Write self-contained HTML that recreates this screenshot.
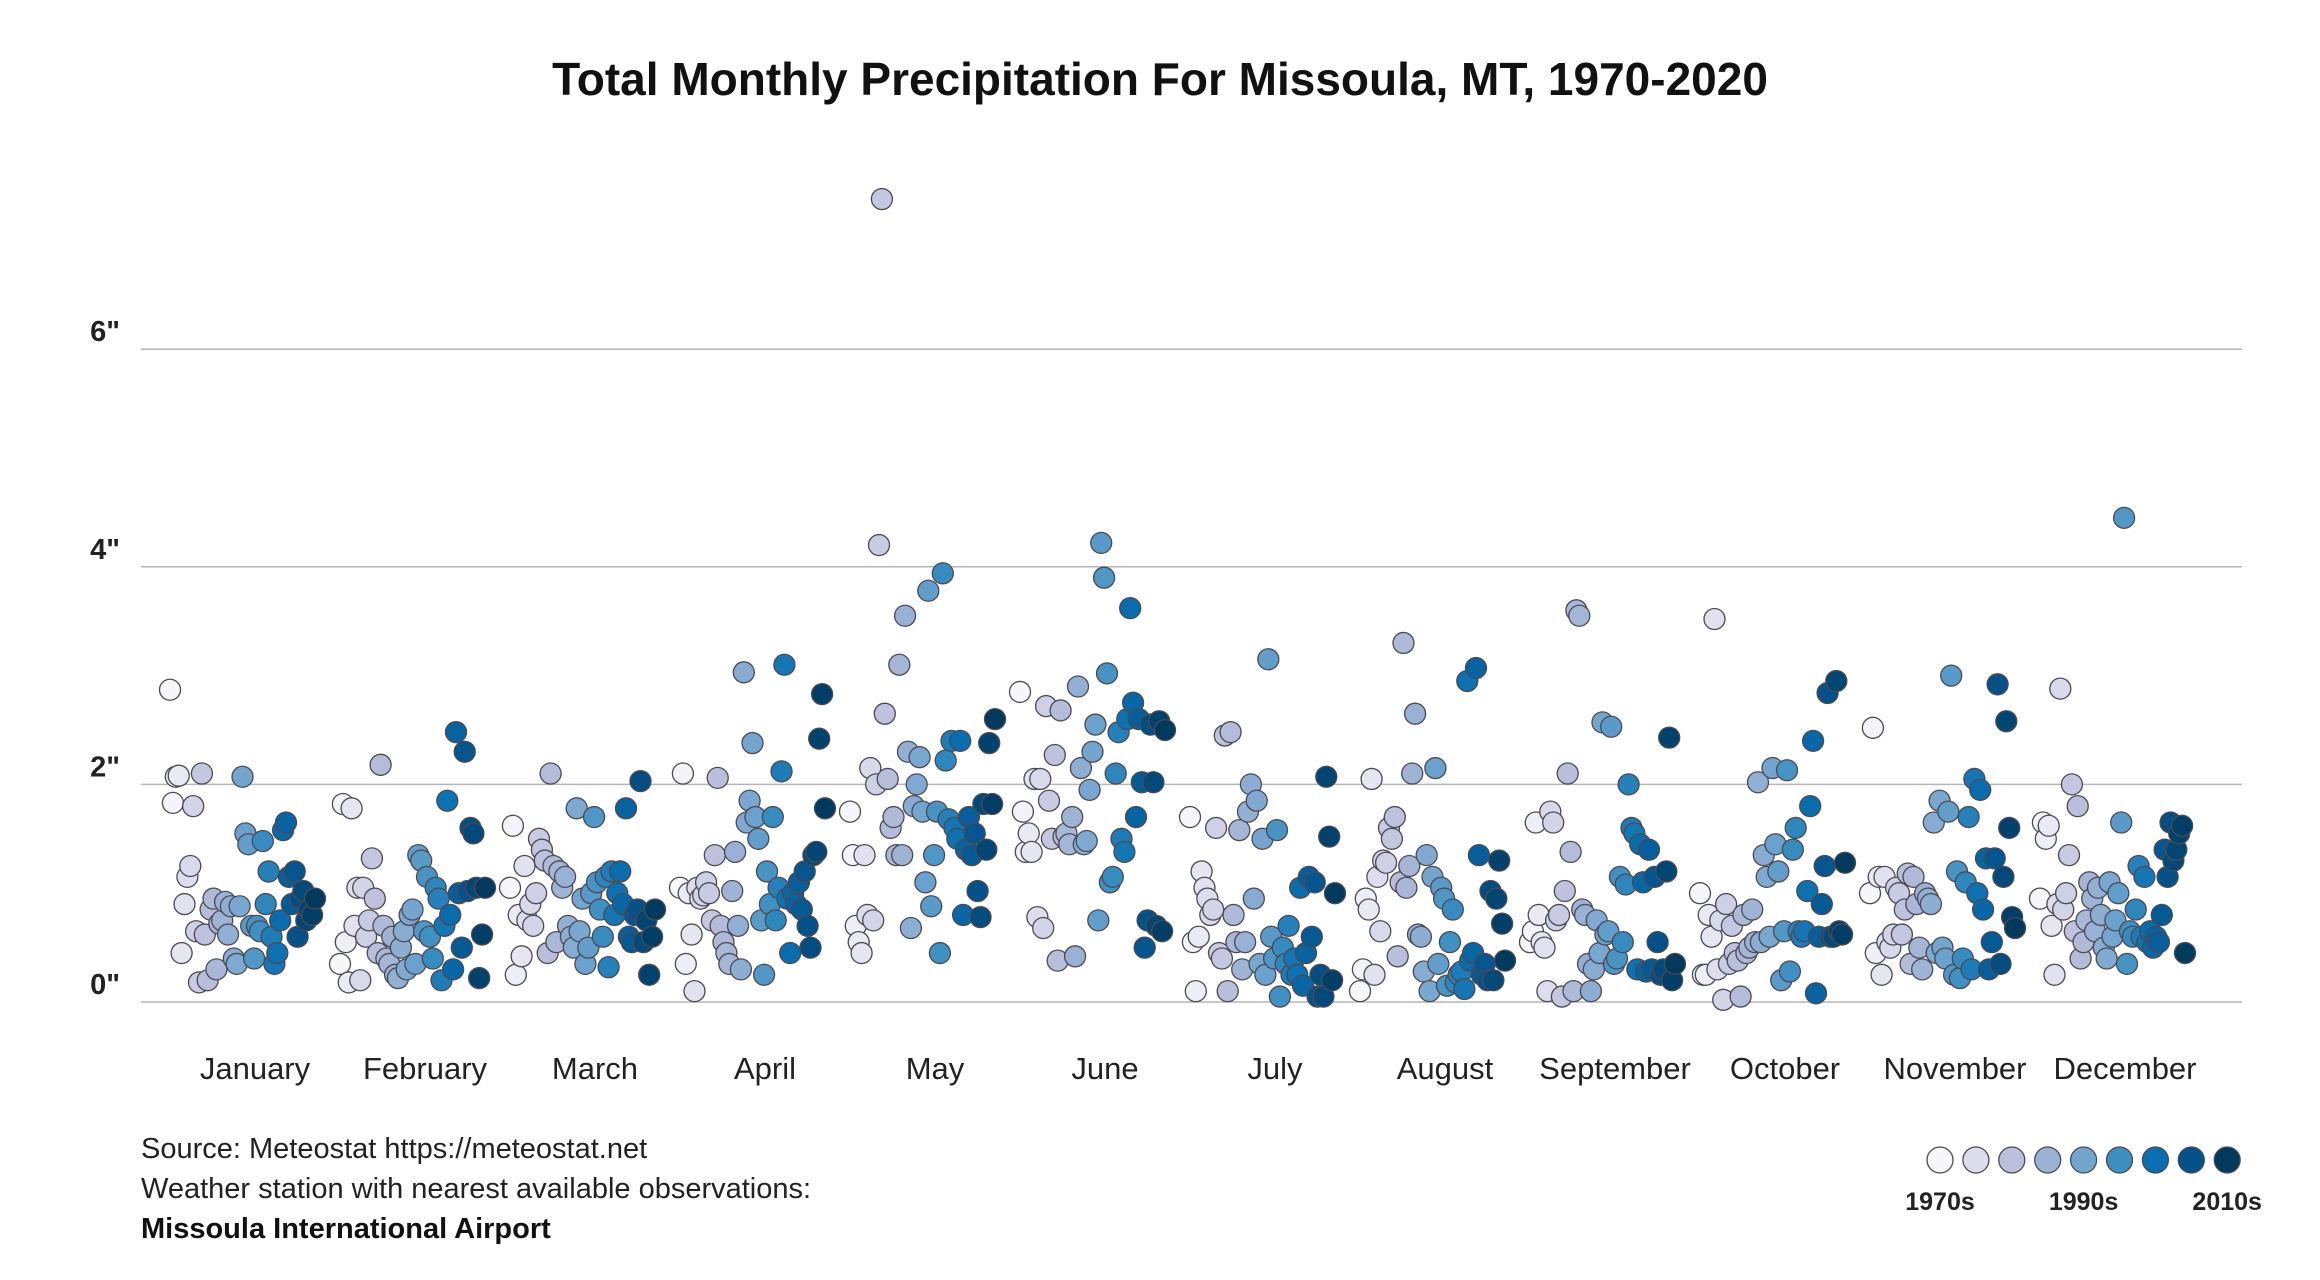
<!DOCTYPE html>
<html><head><meta charset="utf-8"><style>
html,body{margin:0;padding:0;background:#fff;}
svg{display:block;font-family:"Liberation Sans",sans-serif;}
</style></head><body>
<svg id="chart" width="2320" height="1280" viewBox="0 0 2320 1280">
<text x="1160" y="95" text-anchor="middle" font-size="46" font-weight="bold" fill="#111">Total Monthly Precipitation For Missoula, MT, 1970-2020</text>
<g id="grid"></g>
<g id="points"></g>
<g id="months"></g>
<text x="141" y="1158" font-size="29" fill="#222">Source: Meteostat https://meteostat.net</text>
<text x="141" y="1198" font-size="29" fill="#222">Weather station with nearest available observations:</text>
<text x="141" y="1238" font-size="29" font-weight="bold" fill="#111">Missoula International Airport</text>
<g id="legend"></g>
</svg>
<script>
const months=["January","February","March","April","May","June","July","August","September","October","November","December"];
const yTicks=[0,2,4,6];
const tickLabels=['0"','2"','4"','6"'];
const legendLabels=["1970s","1990s","2010s"];
const startYear=1970;
const jan=[2.87,1.83,2.07,2.08,0.45,0.9,1.15,1.25,1.8,0.65,0.18,2.1,0.62,0.2,0.85,0.95,0.3,0.72,0.75,0.92,0.62,0.88,0.4,0.35,0.88,2.07,1.55,1.45,0.7,0.4,0.7,0.65,1.48,0.9,1.2,0.6,0.35,0.45,0.75,1.58,1.65,1.15,0.9,1.2,0.6,0.95,1.02,0.75,0.85,0.8,0.95];
const feb=[0.35,1.82,0.55,0.18,1.78,0.7,1.05,0.2,1.05,0.6,0.75,1.32,0.95,0.45,2.18,0.7,0.4,0.35,0.6,0.25,0.22,0.5,0.65,0.3,0.8,0.85,0.35,1.35,1.3,0.65,1.15,0.6,0.4,1.05,0.95,0.2,0.7,1.85,0.8,0.3,2.48,1.0,0.5,2.3,1.02,1.6,1.55,1.05,0.22,0.62,1.05];
const mar=[1.05,1.62,0.25,0.8,0.42,1.25,0.75,0.9,0.7,1.0,1.5,1.4,1.3,0.45,2.1,1.25,0.55,1.2,1.05,1.15,0.7,0.6,0.5,1.78,0.65,0.95,0.35,0.5,1.0,1.7,1.1,0.85,0.6,1.15,0.32,1.2,0.8,1.0,1.2,0.9,1.78,0.6,0.55,0.8,0.85,2.03,0.55,0.75,0.25,0.6,0.85];
const apr=[1.05,2.1,0.35,1.0,0.62,0.1,1.05,0.95,0.98,1.1,1.0,0.75,1.35,2.06,0.7,0.55,0.45,0.35,1.02,1.38,0.7,0.3,3.03,1.65,1.85,2.38,1.7,1.5,0.75,0.25,1.2,0.9,1.7,0.75,1.05,2.12,3.1,0.95,0.45,1.0,0.9,1.1,0.85,1.2,0.7,0.5,1.35,1.38,2.42,2.83,1.78];
const may=[1.75,1.35,0.7,0.55,0.45,1.35,0.8,2.15,0.75,2.0,4.2,7.38,2.65,2.05,1.6,1.7,1.35,3.1,1.35,3.55,2.3,0.68,1.8,2.0,2.25,1.75,1.1,3.78,0.88,1.35,1.75,0.45,3.94,2.22,1.68,2.4,1.6,1.5,2.4,0.8,1.4,1.7,1.35,1.55,1.02,0.78,1.82,1.4,2.38,1.82,2.6];
const jun=[2.85,1.75,1.38,1.55,1.38,2.05,0.78,2.05,0.68,2.72,1.85,1.5,2.27,0.38,2.68,1.52,1.55,1.45,1.7,0.42,2.9,2.15,1.45,1.48,1.95,2.3,2.55,0.75,4.22,3.9,3.02,1.1,1.15,2.1,2.48,1.5,1.38,2.6,3.62,2.75,1.7,2.6,2.02,0.5,0.75,2.55,2.02,0.7,2.58,0.65,2.5];
const jul=[1.7,0.55,0.1,0.6,1.2,1.05,0.95,0.8,0.85,1.6,0.45,0.4,2.45,0.1,2.48,0.8,0.55,1.58,0.3,0.55,1.75,2.0,0.95,1.85,0.35,1.5,0.25,3.15,0.6,0.4,1.58,0.05,0.5,0.35,0.7,0.25,0.4,0.25,1.05,0.15,0.45,1.15,0.6,1.1,0.05,0.25,0.05,2.07,1.52,0.2,1.0];
const aug=[0.1,0.3,0.95,0.85,2.05,0.25,1.15,0.65,1.3,1.28,1.6,1.5,1.7,0.42,1.1,3.3,1.05,1.25,2.1,2.65,0.62,0.6,0.28,1.35,0.1,1.15,2.15,0.35,1.05,0.95,0.15,0.55,0.85,0.18,0.25,0.28,0.12,2.95,0.38,0.45,3.07,1.35,0.25,0.35,0.2,1.02,0.2,0.95,1.3,0.72,0.38];
const sep=[0.55,0.65,1.65,0.8,0.55,0.5,0.1,1.75,1.65,0.75,0.8,0.05,1.02,2.1,1.38,0.1,3.6,3.55,0.85,0.8,0.35,0.1,0.3,0.75,0.45,2.57,0.62,0.65,2.53,0.35,0.4,1.15,0.55,1.08,2.0,1.6,1.55,0.3,1.45,1.1,0.28,1.4,0.3,1.15,0.55,0.25,0.3,1.2,2.43,0.2,0.35];
const oct=[1.0,0.25,0.25,0.8,0.6,3.52,0.3,0.75,0.02,0.9,0.35,0.7,0.45,0.38,0.05,0.8,0.45,0.5,0.85,0.55,2.02,0.55,1.35,1.15,0.6,2.15,1.45,1.2,0.2,0.65,2.13,0.28,1.4,1.6,0.65,0.6,0.65,1.02,1.8,2.4,0.08,0.6,0.9,1.25,2.84,0.6,0.6,2.95,0.65,0.62,1.28];
const nov=[1.0,2.52,0.45,1.15,0.25,1.15,0.55,0.5,0.62,1.05,1.0,0.62,0.85,1.18,0.35,1.15,0.9,0.5,0.3,1.0,0.95,0.9,1.65,0.45,1.85,0.5,0.4,1.75,3.0,0.25,1.2,0.22,0.4,1.1,1.7,0.3,2.05,1.0,1.95,0.85,1.32,0.3,0.55,1.32,2.92,0.35,1.15,2.58,1.6,0.78,0.68];
const dec=[0.95,1.65,1.5,1.62,0.7,0.25,0.9,2.88,0.85,1.0,1.35,2.0,0.65,1.8,0.4,0.55,0.75,1.1,0.95,0.65,1.05,0.8,0.5,0.4,1.1,0.6,0.75,1.0,1.65,4.45,0.35,0.65,0.6,0.85,1.25,0.6,1.15,0.55,0.65,0.5,0.6,0.55,0.8,1.4,1.15,1.65,1.3,1.4,1.55,1.62,0.45];
const series=[jan,feb,mar,apr,may,jun,jul,aug,sep,oct,nov,dec];
const palette=["#f7f7fb","#dcdcec","#bcc0dc","#9bb1d4","#74a5cf","#3e8fc0","#0a6eaf","#05528a","#023a5e"];
const NS="http://www.w3.org/2000/svg";
const x0=141,x1=2242,yBase=1002,pxPerIn=108.8;
function yScale(v){return yBase-v*pxPerIn;}
function monthCenter(m){return 255+m*170;}
function xScale(m,yr){return monthCenter(m)-85+(yr-startYear)*2.9;}
function hex(c){return [1,3,5].map(i=>parseInt(c.substr(i,2),16));}
function colorFor(yr){let t=(yr-startYear)/50*8;t=Math.max(0,Math.min(8,t));const i=Math.min(7,Math.floor(t)),f=t-i;const a=hex(palette[i]),b=hex(palette[i+1]);return "rgb("+a.map((v,k)=>Math.round(v+(b[k]-v)*f)).join(",")+")";}
function mk(tag,attrs,parent){const e=document.createElementNS(NS,tag);for(const k in attrs)e.setAttribute(k,attrs[k]);parent.appendChild(e);return e;}
const grid=document.getElementById("grid");
yTicks.forEach((v,i)=>{
 const l=mk("line",{x1:x0,x2:x1,y1:yScale(v),y2:yScale(v),stroke:"#b5b5b5","stroke-width":1.5},grid);
 
 
 const t=mk("text",{x:120,y:yScale(v)-8,"text-anchor":"end","font-size":29,"font-weight":"bold",fill:"#222"},grid);
 t.textContent=tickLabels[i];
 
 
});
const mg=document.getElementById("months");
months.forEach((m,i)=>{
 const t=mk("text",{x:monthCenter(i),y:1079,"text-anchor":"middle","font-size":31,fill:"#222"},mg);
 t.textContent=m;
 
 
});
const pg=document.getElementById("points");
series.forEach((arr,m)=>{arr.forEach((v,i)=>{
 const yr=startYear+i;
 const c=mk("circle",{cx:xScale(m,yr),cy:yScale(v),r:10.5,fill:colorFor(yr),stroke:"#4a4a55","stroke-width":1.3},pg);
 
 
});});
const lg=document.getElementById("legend");
palette.forEach((col,i)=>{
 const c=mk("circle",{cx:1940+i*35.9,cy:1160,r:13,fill:col,stroke:"#4a4a55","stroke-width":1.3},lg);
 
 
});
legendLabels.forEach((s,i)=>{
 const t=mk("text",{x:1940+i*4*35.9,y:1210,"text-anchor":"middle","font-size":25,"font-weight":"bold",fill:"#222"},lg);
 t.textContent=s;
 
 
});
</script>
</body></html>
